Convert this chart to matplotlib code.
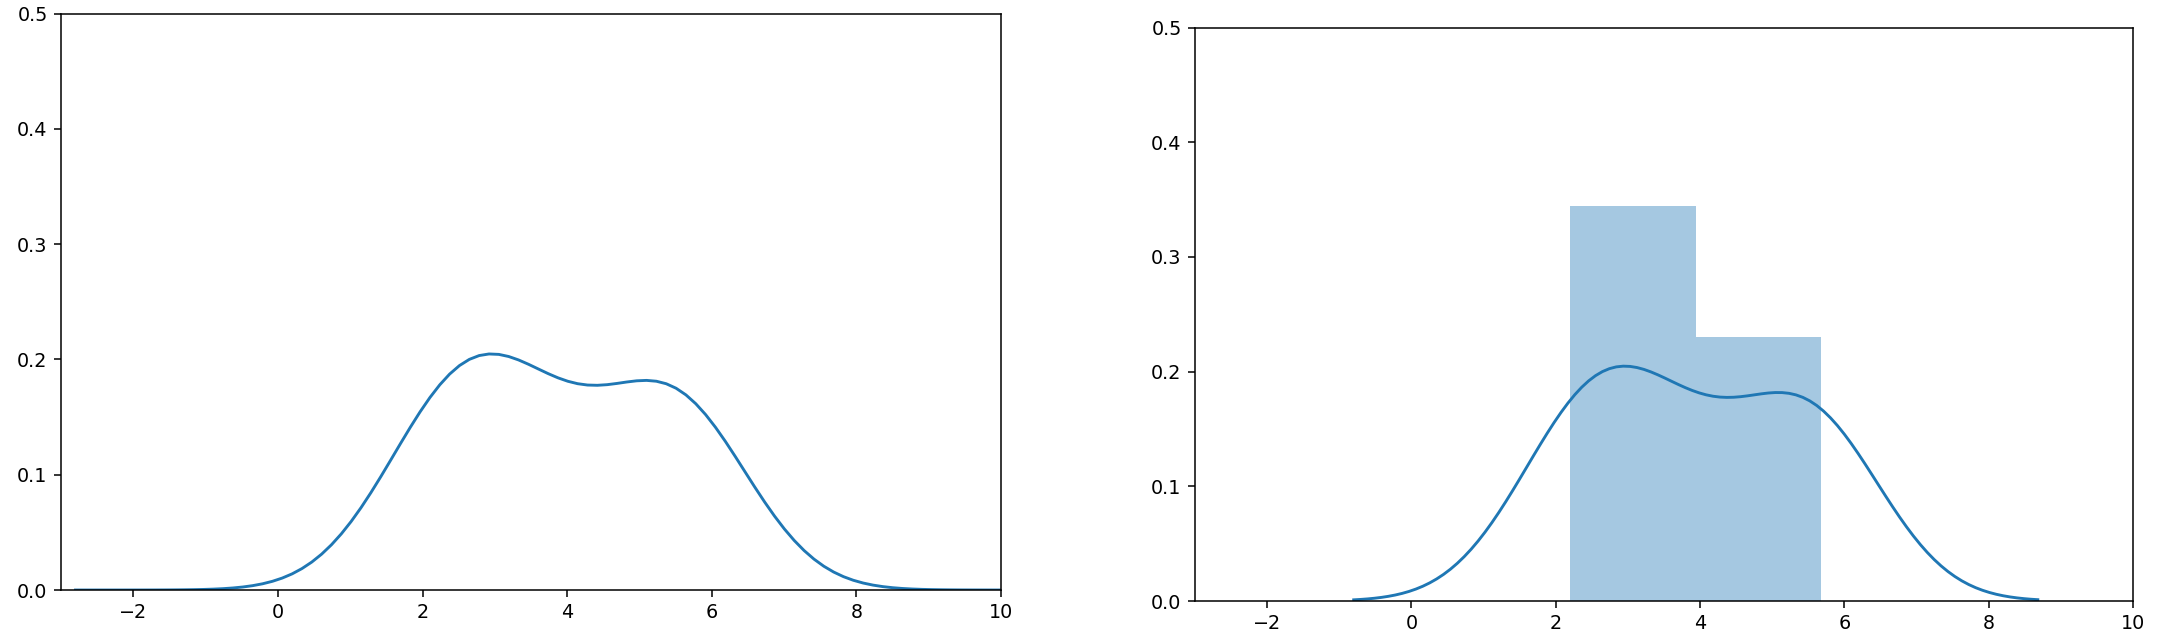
import numpy as np
import matplotlib
matplotlib.use("Agg")
import matplotlib.pyplot as plt

# Sample values (inferred from the histogram bins and KDE shape)
sample = np.array([2.2, 2.74, 3.71, 5.32, 5.68])
bandwidth = 1.0
cut_left = 5      # kde-only panel
cut_right = 3     # distplot panel
n_bins = 2
x_limits = (-3, 10)
y_limits = (0, 0.5)

COLOR = "#1f77b4"


def gaussian_kde(data, grid, bw):
    z = (grid[:, None] - data[None, :]) / bw
    return np.exp(-0.5 * z ** 2).sum(axis=1) / (len(data) * bw * np.sqrt(2 * np.pi))


DPI = 138
fig = plt.figure(figsize=(2164 / DPI, 640 / DPI), dpi=DPI)
ax1 = fig.add_axes([0.0282, 0.0781, 0.4344, 0.9008])
ax2 = fig.add_axes([0.5522, 0.0609, 0.4335, 0.8961])

# Left: KDE only
grid1 = np.linspace(sample.min() - cut_left * bandwidth,
                    sample.max() + cut_left * bandwidth, 100)
ax1.plot(grid1, gaussian_kde(sample, grid1, bandwidth), color=COLOR, lw=1.5)

# Right: histogram + KDE
ax2.hist(sample, bins=n_bins, density=True, color=COLOR, alpha=0.4)
grid2 = np.linspace(sample.min() - cut_right * bandwidth,
                    sample.max() + cut_right * bandwidth, 100)
ax2.plot(grid2, gaussian_kde(sample, grid2, bandwidth), color=COLOR, lw=1.5)

for ax in (ax1, ax2):
    ax.set_xlim(*x_limits)
    ax.set_ylim(*y_limits)

fig.savefig("out.png", dpi=DPI)
